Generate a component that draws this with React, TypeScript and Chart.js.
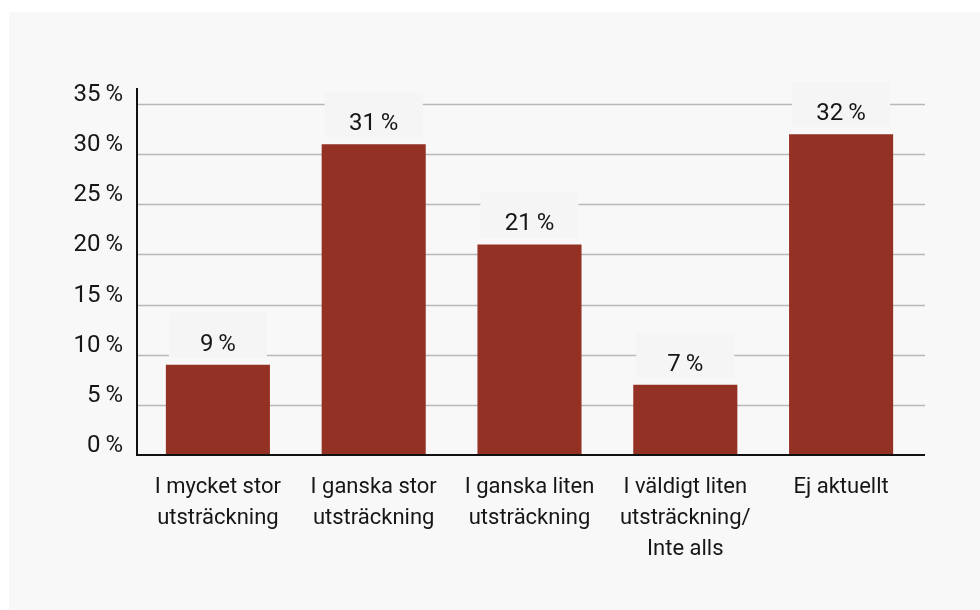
import React, { useEffect, useRef } from 'react';
import { Chart, registerables } from 'chart.js';

Chart.register(...registerables);

const categories: string[][] = [
  ['I mycket stor', 'utsträckning'],
  ['I ganska stor', 'utsträckning'],
  ['I ganska liten', 'utsträckning'],
  ['I väldigt liten', 'utsträckning/', 'Inte alls'],
  ['Ej aktuellt'],
];
const values: number[] = [9, 31, 21, 7, 32];
const yTickStep = 5;
const yMin = 0;
const yMax = 36.6;

const BAR = '#933124';
const BG = '#f8f8f8';
const LABEL_BG = '#f5f5f5';
const GRID = '#b8b8b8';
const TEXT = '#161616';
const FONT = 'Roboto, "Noto Sans", sans-serif';

const fmt = (v: number) => `${v}\u2009%`;

const decorPlugin = {
  id: 'decor',
  beforeDatasetsDraw(chart: any) {
    const { ctx, chartArea, scales } = chart;
    const y = scales.y;
    const axisX = chartArea.left - 3;
    const right = chartArea.right + 6;
    ctx.save();
    ctx.strokeStyle = GRID;
    ctx.lineWidth = 1.6;
    y.ticks.forEach((t: any) => {
      if (t.value === 0) return;
      const py = Math.round(y.getPixelForValue(t.value)) + 0.5;
      ctx.beginPath();
      ctx.moveTo(axisX, py);
      ctx.lineTo(right, py);
      ctx.stroke();
    });
    ctx.restore();
  },
  afterDatasetsDraw(chart: any) {
    const { ctx, chartArea } = chart;
    const axisX = chartArea.left - 3;
    const right = chartArea.right + 6;
    ctx.save();
    const meta = chart.getDatasetMeta(0);
    meta.data.forEach((bar: any, i: number) => {
      const w = bar.width;
      const x0 = bar.x - w / 2 + 3;
      const x1 = bar.x + w / 2 - 3;
      ctx.fillStyle = LABEL_BG;
      ctx.fillRect(x0, bar.y - 52, x1 - x0, 45);
      ctx.fillStyle = TEXT;
      ctx.font = `24px ${FONT}`;
      ctx.textAlign = 'center';
      ctx.textBaseline = 'middle';
      ctx.fillText(fmt(values[i]), bar.x, bar.y - 20);
    });
    ctx.strokeStyle = '#111111';
    ctx.lineWidth = 2;
    ctx.beginPath();
    ctx.moveTo(axisX, chartArea.top);
    ctx.lineTo(axisX, chartArea.bottom + 1);
    ctx.moveTo(axisX - 1, chartArea.bottom);
    ctx.lineTo(right, chartArea.bottom);
    ctx.stroke();
    ctx.restore();
  },
};

export default function App() {
  const ref = useRef<HTMLCanvasElement | null>(null);
  useEffect(() => {
    if (!ref.current) return;
    const chart = new Chart(ref.current, {
      type: 'bar',
      data: {
        labels: categories,
        datasets: [
          {
            data: values,
            backgroundColor: BAR,
            borderWidth: 0,
            barPercentage: 0.668,
            categoryPercentage: 1,
          },
        ],
      },
      options: {
        responsive: false,
        animation: false,
        devicePixelRatio: 1,
        layout: { padding: { top: 76, right: 61, left: 0, bottom: 0 } },
        plugins: { legend: { display: false }, tooltip: { enabled: false } },
        scales: {
          x: {
            grid: { display: false, drawTicks: false },
            border: { display: false },
            ticks: {
              color: TEXT,
              font: { family: FONT, size: 22, lineHeight: 31 / 22 },
              maxRotation: 0,
              autoSkip: false,
              padding: 17,
            },
            afterFit: (s: any) => {
              s.height = 155;
            },
          },
          y: {
            min: yMin,
            max: yMax,
            grid: { display: false, drawTicks: false },
            border: { display: false },
            ticks: {
              stepSize: yTickStep,
              includeBounds: false,
              color: TEXT,
              font: { family: FONT, size: 24 },
              padding: 17,
              labelOffset: -9,
              callback: (v: any) => fmt(Number(v)),
            },
            afterFit: (s: any) => {
              s.width = 131;
            },
          },
        },
      },
      plugins: [decorPlugin],
    });
    return () => chart.destroy();
  }, []);
  return (
    <div
      style={{
        position: 'fixed',
        left: 9,
        top: 12,
        width: 971,
        height: 598,
        background: BG,
      }}
    >
      <canvas ref={ref} width={971} height={598} style={{ display: 'block' }} />
    </div>
  );
}
